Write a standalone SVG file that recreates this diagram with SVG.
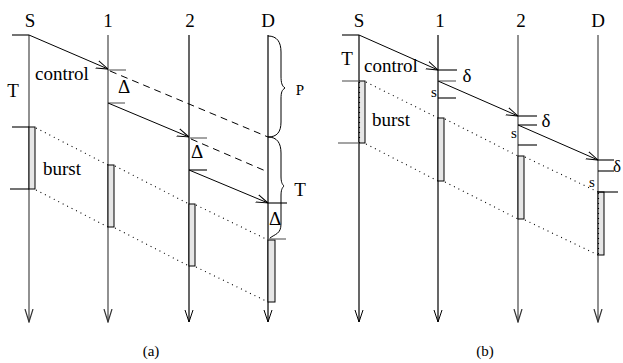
<svg xmlns="http://www.w3.org/2000/svg" width="623" height="363" viewBox="0 0 623 363" font-family="'Liberation Serif', 'DejaVu Serif', serif">
<style>
.ax{stroke:#000;stroke-width:1.2;fill:none}
.gx{stroke:#555;stroke-width:1.3;fill:none}
.tk{stroke:#000;stroke-width:1.1;fill:none}
.gt{stroke:#666;stroke-width:1.2;fill:none}
.ar{stroke:#000;stroke-width:1;fill:none}
.ds{stroke:#000;stroke-width:1;fill:none;stroke-dasharray:7 5}
.dt{stroke:#000;stroke-width:1.1;fill:none;stroke-dasharray:1 4}
.bu{fill:#e6e6e6;stroke:#000;stroke-width:1}
.br{stroke:#000;stroke-width:1;fill:none}
text{font-family:'Liberation Serif','Times New Roman','DejaVu Serif',serif;fill:#000}
.lb{font-size:19px;text-anchor:middle}
.sm{font-size:15px;text-anchor:middle}
</style>
<defs>
<marker id="ah" viewBox="0 0 12 10" refX="12" refY="5" markerWidth="12" markerHeight="10" orient="auto" markerUnits="userSpaceOnUse">
<path d="M0,1 L12,5 L0,9" fill="none" stroke="#000" stroke-width="1"/>
</marker>
<marker id="ahg" viewBox="0 0 14 10" refX="13" refY="5" markerWidth="14" markerHeight="10" orient="auto" markerUnits="userSpaceOnUse">
<path d="M0,1 L13,5 L0,9" fill="none" stroke="#333" stroke-width="1.2"/>
</marker>
</defs>

<!-- Panel (a) -->
<g id="a-S">
<line class="gx" x1="29" y1="35" x2="29" y2="322" marker-end="url(#ahg)"/>
<text class="lb" x="30" y="27">S</text>
<rect class="bu" x="29" y="127" width="6" height="62"/>
<line class="tk" x1="12" y1="35" x2="29" y2="35"/>
<line class="tk" x1="12" y1="127" x2="29" y2="127"/>
<line class="tk" x1="10" y1="189" x2="29" y2="189"/>
<text class="lb" x="13" y="97">T</text>
<text class="lb" x="62" y="80">control</text>
<text class="lb" x="62" y="175">burst</text>
</g>
<g id="a-1">
<line class="gx" x1="108" y1="35" x2="108" y2="322" marker-end="url(#ahg)"/>
<text class="lb" x="108" y="27">1</text>
<rect class="bu" x="108" y="165" width="6" height="62"/>
<line class="gt" x1="108" y1="70" x2="126" y2="70"/>
<line class="gt" x1="108" y1="103" x2="125" y2="103"/>
<text class="lb" x="124" y="93">Δ</text>
</g>
<g id="a-2">
<line class="ax" x1="189" y1="35" x2="189" y2="322" marker-end="url(#ah)"/>
<text class="lb" x="190" y="27">2</text>
<rect class="bu" x="189" y="204" width="6" height="62"/>
<line class="gt" x1="189" y1="138" x2="207" y2="138"/>
<line class="tk" x1="189" y1="170" x2="207" y2="170"/>
<text class="lb" x="197" y="158">Δ</text>
</g>
<g id="a-D">
<line class="ax" x1="268" y1="35" x2="268" y2="322" marker-end="url(#ah)"/>
<text class="lb" x="268" y="27">D</text>
<rect class="bu" x="268" y="240" width="7" height="62"/>
<line class="tk" x1="268" y1="203" x2="287" y2="203"/>
<line class="gt" x1="268" y1="239" x2="286" y2="239"/>
<text class="lb" x="275" y="225">Δ</text>
<path class="br" d="M268,36 C277,36 281,42 281,52 L281,76 C281,83 282,86 285,88 C282,90 281,92 281,99 L281,122 C281,132 277,137 268,137"/>
<path class="br" d="M268,137 C277,137 281,143 281,153 L281,176 C281,182 282,184 284,186 C282,188 281,190 281,196 L281,224 C281,234 275,234 270,238"/>
<text class="sm" x="300" y="95">P</text>
<text class="lb" x="300" y="196">T</text>
</g>

<!-- Panel (b) -->
<g id="b-S">
<line class="ax" x1="359" y1="35" x2="359" y2="322" marker-end="url(#ah)"/>
<text class="lb" x="359" y="27">S</text>
<rect class="bu" x="359" y="81" width="6" height="62"/>
<line class="dt" x1="359.5" y1="82" x2="359.5" y2="143"/>
<line class="tk" x1="342" y1="35" x2="359" y2="35"/>
<line class="gt" x1="342" y1="81" x2="359" y2="81"/>
<line class="gt" x1="338" y1="143" x2="359" y2="143"/>
<text class="lb" x="347" y="65">T</text>
<text class="lb" x="391" y="72">control</text>
<text class="lb" x="391" y="126">burst</text>
</g>
<g id="b-1">
<line class="ax" x1="438" y1="35" x2="438" y2="322" marker-end="url(#ah)"/>
<text class="lb" x="440" y="27">1</text>
<rect class="bu" x="438" y="118" width="6" height="63"/>
<line class="tk" x1="438" y1="70" x2="457" y2="70"/>
<line class="gt" x1="438" y1="81" x2="456" y2="81"/>
<line class="tk" x1="438" y1="98" x2="456" y2="98"/>
<text class="lb" x="467" y="82">δ</text>
<text class="sm" x="434" y="97">s</text>
</g>
<g id="b-2">
<line class="gx" x1="518" y1="35" x2="518" y2="322" marker-end="url(#ahg)"/>
<text class="lb" x="521" y="27">2</text>
<rect class="bu" x="518" y="156" width="6" height="63"/>
<line class="tk" x1="518" y1="116" x2="537" y2="116"/>
<line class="tk" x1="518" y1="125" x2="537" y2="125"/>
<line class="tk" x1="518" y1="145" x2="537" y2="145"/>
<text class="lb" x="546" y="127">δ</text>
<text class="sm" x="514" y="138">s</text>
</g>
<g id="b-D">
<line class="gx" x1="598" y1="35" x2="598" y2="322" marker-end="url(#ahg)"/>
<text class="lb" x="598" y="27">D</text>
<rect class="bu" x="598" y="192" width="6" height="63"/>
<line class="dt" x1="598.5" y1="193" x2="598.5" y2="255"/>
<line class="tk" x1="598" y1="160" x2="614" y2="160"/>
<line class="tk" x1="598" y1="171" x2="614" y2="171"/>
<line class="tk" x1="598" y1="192" x2="618" y2="192"/>
<text x="613" y="172" font-size="17">δ</text>
<text class="sm" x="592" y="187">s</text>
</g>

<g id="connectors">
<line class="ar" x1="29" y1="35" x2="108" y2="69" marker-end="url(#ah)"/>
<line class="ar" x1="108" y1="103" x2="189" y2="137" marker-end="url(#ah)"/>
<line class="ar" x1="189" y1="170" x2="268" y2="203" marker-end="url(#ah)"/>
<line class="ds" x1="110" y1="71" x2="268" y2="137"/>
<line class="ds" x1="191" y1="139" x2="268" y2="172"/>
<line class="dt" x1="36" y1="128" x2="108" y2="165"/>
<line class="dt" x1="115" y1="166" x2="189" y2="204"/>
<line class="dt" x1="196" y1="205" x2="268" y2="240"/>
<line class="dt" x1="36" y1="190" x2="108" y2="227"/>
<line class="dt" x1="115" y1="228" x2="189" y2="266"/>
<line class="dt" x1="196" y1="267" x2="268" y2="302"/>

<line class="ar" x1="359" y1="35" x2="438" y2="70" marker-end="url(#ah)"/>
<line class="ar" x1="438" y1="81" x2="518" y2="116" marker-end="url(#ah)"/>
<line class="ar" x1="518" y1="125" x2="598" y2="160" marker-end="url(#ah)"/>
<line class="dt" x1="366" y1="82" x2="438" y2="118"/>
<line class="dt" x1="445" y1="119" x2="518" y2="156"/>
<line class="dt" x1="525" y1="157" x2="598" y2="192"/>
<line class="dt" x1="366" y1="144" x2="438" y2="181"/>
<line class="dt" x1="445" y1="182" x2="518" y2="219"/>
<line class="dt" x1="525" y1="220" x2="598" y2="255"/>
</g>

<text class="sm" x="151" y="356">(a)</text>
<text class="sm" x="485" y="356">(b)</text>
</svg>
